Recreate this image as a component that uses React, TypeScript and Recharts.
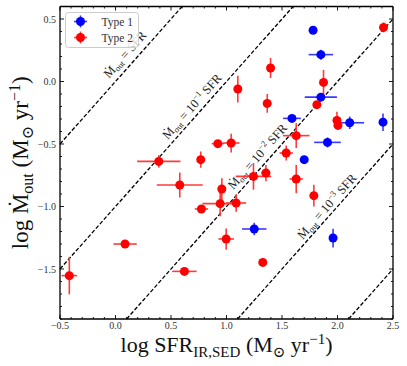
import React from 'react';
import { ScatterChart, Scatter, XAxis, YAxis, ErrorBar, ReferenceLine, Legend } from 'recharts';

// ---- data ----
const type1Sfr = [1.78, 1.85, 1.85, 1.59, 2.11, 2.41, 1.91, 1.70, 1.25, 1.96];
const type1Mout = [0.41, 0.215, -0.125, -0.295, -0.33, -0.325, -0.487, -0.625, -1.18, -1.252];
const type1SfrErr = [0, 0.11, 0.145, 0.08, 0.13, 0.03, 0.12, 0, 0.11, 0.02];
const type1MoutErr = [0, 0.04, 0.03, 0.03, 0.05, 0.07, 0.04, 0, 0.05, 0.075];

const type2Sfr = [2.415, 1.397, 1.874, 1.102, 1.367, 1.814, 1.995, 2.004, 1.628, 0.922, 1.042, 1.538, 0.39, 0.768, 1.355, 1.243, 0.579, 1.628, 0.958, 1.787, 0.943, 1.087, 0.774, 0.997, 0.086, 0.621, 1.327, -0.416];
const type2Mout = [0.433, 0.108, -0.007, -0.06, -0.175, -0.185, -0.311, -0.351, -0.433, -0.497, -0.492, -0.572, -0.639, -0.625, -0.732, -0.759, -0.828, -0.78, -0.86, -0.913, -0.977, -0.972, -1.02, -1.26, -1.30, -1.519, -1.447, -1.553];
const type2SfrErr = [0.02, 0.02, 0.02, 0.02, 0.02, 0.03, 0.02, 0.02, 0.12, 0.055, 0.075, 0.06, 0.195, 0.02, 0.04, 0.16, 0.207, 0.06, 0.02, 0.02, 0.16, 0.09, 0.06, 0.07, 0.105, 0.11, 0, 0.07];
const type2MoutErr = [0.04, 0.08, 0.1, 0.107, 0.075, 0.03, 0.07, 0.03, 0.1, 0.03, 0.075, 0.06, 0.05, 0.065, 0.065, 0.107, 0.1, 0.113, 0.087, 0.087, 0.1, 0.07, 0.03, 0.085, 0.03, 0.03, 0, 0.15];

const seriesNames = ['Type 1', 'Type 2'];
const lineOffsets = [0, -1, -2, -3, -4]; // log(Mout/SFR)
const lineLabelExp = ['', '\u22121', '\u22122', '\u22123', null];
const lineLabelX = [0.086, 0.69, 1.28, 1.905, null];
const lineLabelY = [0.216, -0.2, -0.6, -1.0, null];

const xMajor = [-0.5, 0, 0.5, 1, 1.5, 2, 2.5];
const yMajor = [-1.5, -1, -0.5, 0, 0.5];
const X_MIN = -0.5, X_MAX = 2.5, Y_MIN = -1.9, Y_MAX = 0.6;

const xTicks = Array.from({ length: 31 }, (_, i) => Math.round((X_MIN + i * 0.1) * 10) / 10);
const yTicks = Array.from({ length: 26 }, (_, i) => Math.round((Y_MIN + i * 0.1) * 10) / 10);

// ---- style ----
const FONT = "'Liberation Serif', 'DejaVu Serif', serif";
const FS = { fontFamily: FONT } as React.CSSProperties;
const RED = '#ff0000';
const BLUE = '#0000ff';
const RED_ERR = '#ff3a3a';
const BLUE_ERR = '#3a3aff';

const build = (xs: number[], ys: number[], xe: number[], ye: number[]) =>
  xs.map((x, i) => ({ x, y: ys[i], ex: xe[i], ey: ye[i] }));

const type1Data = build(type1Sfr, type1Mout, type1SfrErr, type1MoutErr);
const type2Data = build(type2Sfr, type2Mout, type2SfrErr, type2MoutErr);

const isMajor = (v: number, majors: number[]) => majors.some((m) => Math.abs(m - v) < 1e-6);
const fmt = (v: number) => (v < 0 ? '\u2212' : '') + Math.abs(v).toFixed(1);
const r3 = (v: number) => Math.round(v * 1000) / 1000;

const BottomTick = (props: any) => {
  const { x, y, payload } = props;
  const major = isMajor(payload.value, xMajor);
  return (
    <g>
      <line x1={x} x2={x} y1={y} y2={y - (major ? 4 : 2)} stroke="#000" strokeWidth={0.9} />
      {major && (
        <text x={x} y={y + 10} textAnchor="middle" fontSize={10} fill="#333" style={FS}>
          {fmt(payload.value)}
        </text>
      )}
    </g>
  );
};
const TopTick = (props: any) => {
  const { x, y, payload } = props;
  const major = isMajor(payload.value, xMajor);
  return <line x1={x} x2={x} y1={y} y2={y + (major ? 4 : 2)} stroke="#000" strokeWidth={0.9} />;
};
const LeftTick = (props: any) => {
  const { x, y, payload } = props;
  const major = isMajor(payload.value, yMajor);
  return (
    <g>
      <line x1={x} x2={x + (major ? 4 : 2)} y1={y} y2={y} stroke="#000" strokeWidth={0.9} />
      {major && (
        <text x={x - 4} y={y + 3.5} textAnchor="end" fontSize={10} fill="#333" style={FS}>
          {fmt(payload.value)}
        </text>
      )}
    </g>
  );
};
const RightTick = (props: any) => {
  const { x, y, payload } = props;
  const major = isMajor(payload.value, yMajor);
  return <line x1={x} x2={x - (major ? 4 : 2)} y1={y} y2={y} stroke="#000" strokeWidth={0.9} />;
};

const XLabel = (props: any) => {
  const vb = props.viewBox || {};
  const cx = vb.x + vb.width / 2;
  const by = vb.y + 33;
  return (
    <text x={cx} y={by} textAnchor="middle" fontSize={22} fill="#111" style={FS}>
      <tspan>log SFR</tspan>
      <tspan dy={5} fontSize={15}>IR,SED</tspan>
      <tspan dy={-5}> (M</tspan>
      <tspan dy={5} fontSize={15}>{'\u2299'}</tspan>
      <tspan dy={-5}> yr</tspan>
      <tspan dy={-8} fontSize={15}>{'\u22121'}</tspan>
      <tspan dy={8}>)</tspan>
    </text>
  );
};

const YLabel = (props: any) => {
  const vb = props.viewBox || {};
  const bx = vb.x + 18;
  const cy = vb.y + vb.height / 2;
  return (
    <g transform={`translate(${bx} ${cy}) rotate(-90)`}>
      <text x={0} y={0} textAnchor="middle" fontSize={23} fill="#111" style={FS}>
        <tspan>log {'\u1E40'}</tspan>
        <tspan dy={5} fontSize={16}>out</tspan>
        <tspan dy={-5}> (M</tspan>
        <tspan dy={5} fontSize={16}>{'\u2299'}</tspan>
        <tspan dy={-5}> yr</tspan>
        <tspan dy={-8} fontSize={16}>{'\u22121'}</tspan>
        <tspan dy={8}>)</tspan>
      </text>
    </g>
  );
};

const Dot = (color: string) => (props: any) => {
  const { cx, cy } = props;
  if (cx == null || cy == null) return <g />;
  return <circle cx={cx} cy={cy} r={4.5} fill={color} />;
};

const segmentFor = (c: number) => {
  const x0 = Math.max(X_MIN, Y_MIN - c);
  const x1 = Math.min(X_MAX, Y_MAX - c);
  return [
    { x: x0, y: x0 + c },
    { x: x1, y: x1 + c },
  ];
};

// label drawn along a reference line, placed through the line's own pixel box
const makeLineLabel = (i: number) => (props: any) => {
  const lx = lineLabelX[i];
  const ly = lineLabelY[i];
  const exp = lineLabelExp[i];
  const vb = props.viewBox;
  if (lx == null || ly == null || !vb) return <g />;
  const seg = segmentFor(lineOffsets[i]);
  const sx = vb.width / (seg[1].x - seg[0].x);
  const sy = vb.height / (seg[1].y - seg[0].y);
  const px = r3(vb.x + (lx - seg[0].x) * sx);
  const py = r3(vb.y + (seg[1].y - ly) * sy);
  const a = Math.atan2(vb.height, vb.width);
  const c = r3(Math.cos(a));
  const s = r3(Math.sin(a));
  return (
    <g transform={`matrix(${c} ${-s} ${s} ${c} ${px} ${py})`}>
      <text x={0} y={4} textAnchor="middle" fontSize={12.5} fill="#222" style={FS}>
        <tspan>{'\u1E40'}</tspan>
        <tspan dy={2.5} fontSize={8.5}>out</tspan>
        <tspan dy={-2.5}>{' = '}</tspan>
        {exp ? (
          <>
            <tspan>10</tspan>
            <tspan dy={-5} fontSize={8.5}>{exp}</tspan>
            <tspan dy={5}> SFR</tspan>
          </>
        ) : (
          <tspan>SFR</tspan>
        )}
      </text>
    </g>
  );
};

const LegendBox = () => (
  <svg width={74} height={36} style={{ display: 'block' }}>
    <rect x={0.5} y={0.5} width={73} height={35} rx={3} ry={3} fill="#fff" fillOpacity={0.8} stroke="#ccc" strokeWidth={1} />
    {[BLUE, RED].map((c, i) => {
      const cy = 9.5 + i * 16;
      const errC = i === 0 ? BLUE_ERR : RED_ERR;
      return (
        <g key={i}>
          <line x1={9} x2={22} y1={cy} y2={cy} stroke={errC} strokeWidth={1.6} />
          <line x1={15.5} x2={15.5} y1={cy - 6} y2={cy + 6} stroke={errC} strokeWidth={1.6} />
          <circle cx={15.5} cy={cy} r={4.5} fill={c} />
          <text x={36.5} y={cy + 4} fontSize={11.5} fill="#333" style={FS}>
            {seriesNames[i]}
          </text>
        </g>
      );
    })}
  </svg>
);

export default function App() {
  return (
    <div style={{ position: 'absolute', left: 0, top: 0, fontFamily: FONT }}>
      <ScatterChart width={407} height={366} margin={{ top: 5.5, right: 13, bottom: 17, left: 10 }}>
        <XAxis
          xAxisId="b"
          dataKey="x"
          type="number"
          orientation="bottom"
          domain={[X_MIN, X_MAX]}
          allowDataOverflow
          ticks={xTicks}
          interval={0}
          tickLine={false}
          tickSize={0}
          tickMargin={0}
          height={30}
          axisLine={{ stroke: '#000', strokeWidth: 1.3 }}
          tick={BottomTick}
          label={XLabel}
        />
        <XAxis
          xAxisId="t"
          dataKey="x"
          type="number"
          orientation="top"
          domain={[X_MIN, X_MAX]}
          allowDataOverflow
          ticks={xTicks}
          interval={0}
          tickLine={false}
          tickSize={0}
          tickMargin={0}
          height={1}
          axisLine={{ stroke: '#000', strokeWidth: 1.3 }}
          tick={TopTick}
        />
        <YAxis
          yAxisId="l"
          dataKey="y"
          type="number"
          orientation="left"
          domain={[Y_MIN, Y_MAX]}
          allowDataOverflow
          ticks={yTicks}
          interval={0}
          tickLine={false}
          tickSize={0}
          tickMargin={0}
          width={50}
          axisLine={{ stroke: '#000', strokeWidth: 1.3 }}
          tick={LeftTick}
          label={YLabel}
        />
        <YAxis
          yAxisId="r"
          dataKey="y"
          type="number"
          orientation="right"
          domain={[Y_MIN, Y_MAX]}
          allowDataOverflow
          ticks={yTicks}
          interval={0}
          tickLine={false}
          tickSize={0}
          tickMargin={0}
          width={1}
          axisLine={{ stroke: '#000', strokeWidth: 1.3 }}
          tick={RightTick}
        />
        {lineOffsets.map((c, i) => (
          <ReferenceLine
            key={c}
            xAxisId="b"
            yAxisId="l"
            segment={segmentFor(c)}
            stroke="#000"
            strokeWidth={1.3}
            strokeDasharray="4 2"
            ifOverflow="visible"
            label={makeLineLabel(i)}
          />
        ))}
        <Scatter xAxisId="b" yAxisId="l" name="Type 1" data={type1Data} shape={Dot(BLUE)} isAnimationActive={false}>
          <ErrorBar dataKey="ex" direction="x" width={0} stroke={BLUE_ERR} strokeWidth={1.6} isAnimationActive={false} />
          <ErrorBar dataKey="ey" direction="y" width={0} stroke={BLUE_ERR} strokeWidth={1.6} isAnimationActive={false} />
        </Scatter>
        <Scatter xAxisId="b" yAxisId="l" name="Type 2" data={type2Data} shape={Dot(RED)} isAnimationActive={false}>
          <ErrorBar dataKey="ex" direction="x" width={0} stroke={RED_ERR} strokeWidth={1.6} isAnimationActive={false} />
          <ErrorBar dataKey="ey" direction="y" width={0} stroke={RED_ERR} strokeWidth={1.6} isAnimationActive={false} />
        </Scatter>
        <Legend
          layout="vertical"
          align="center"
          verticalAlign="middle"
          content={LegendBox}
          wrapperStyle={{ left: 65, top: 11.5, width: 74, height: 36, right: 'auto', bottom: 'auto' }}
        />
      </ScatterChart>
    </div>
  );
}
